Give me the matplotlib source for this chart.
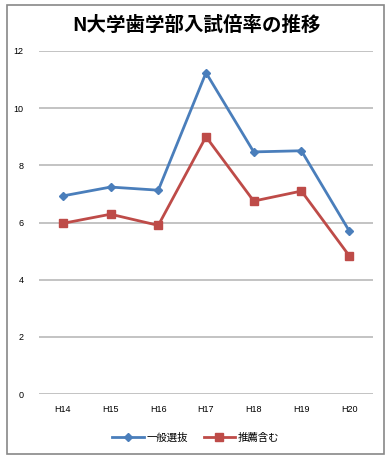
import matplotlib
matplotlib.use("Agg")
import matplotlib.pyplot as plt
from matplotlib.patches import Rectangle

categories = ["H14", "H15", "H16", "H17", "H18", "H19", "H20"]
general = [6.93, 7.24, 7.13, 11.24, 8.47, 8.51, 5.71]
with_recommend = [5.97, 6.29, 5.90, 9.00, 6.75, 7.10, 4.84]
series_names = ["一般選抜", "推薦含む"]
title = "N大学歯学部入試倍率の推移"
yticks = [0, 2, 4, 6, 8, 10, 12]

W, H = 392, 462
fig = plt.figure(figsize=(W / 100, H / 100), dpi=100)
fig.patch.set_facecolor("white")

jp = ["Noto Sans CJK JP", "DejaVu Sans"]
lat = ["Liberation Sans", "DejaVu Sans"]

# outer border
fig.patches.append(Rectangle((7 / W, 1 - 454 / H), (384 - 7) / W, (454 - 5) / H,
                             transform=fig.transFigure, fill=False,
                             edgecolor="#888888", linewidth=1.2))

ax = fig.add_axes([39 / W, 1 - 394 / H, (373 - 39) / W, (394 - 51) / H])
x = list(range(len(categories)))
ax.plot(x, general, color="#4A7EBB", linewidth=2, marker="D", markersize=4.5,
        markerfacecolor="#4A7EBB", markeredgecolor="#4A7EBB", label=series_names[0], zorder=3)
ax.plot(x, with_recommend, color="#BE4B48", linewidth=2, marker="s", markersize=6,
        markerfacecolor="#BE4B48", markeredgecolor="#BE4B48", label=series_names[1], zorder=3)

ax.set_xlim(-0.5, len(categories) - 0.5)
ax.set_ylim(0, 12)
ax.set_yticks(yticks)
ax.set_yticklabels([str(v) for v in yticks], fontfamily=lat, fontsize=6.5)
ax.set_xticks(x)
ax.set_xticklabels(categories, fontfamily=lat, fontsize=6.5)
ax.tick_params(axis="y", length=0, pad=11)
ax.tick_params(axis="x", length=0, pad=8)
ax.grid(axis="y", color="#BEBEBE", linewidth=1.3)
ax.set_axisbelow(True)
for s in ax.spines.values():
    s.set_visible(False)

fig.text(0.5, 1 - 25 / H, title, ha="center", va="center", fontsize=14,
         fontweight="bold", fontfamily=jp)

leg = fig.legend(loc="center", bbox_to_anchor=(0.5, 1 - 438 / H), ncol=2, frameon=False,
                 prop={"family": jp, "size": 7.5}, handlelength=3, columnspacing=1.5,
                 handletextpad=0.3)

fig.savefig("out.png", dpi=100, facecolor="white")
